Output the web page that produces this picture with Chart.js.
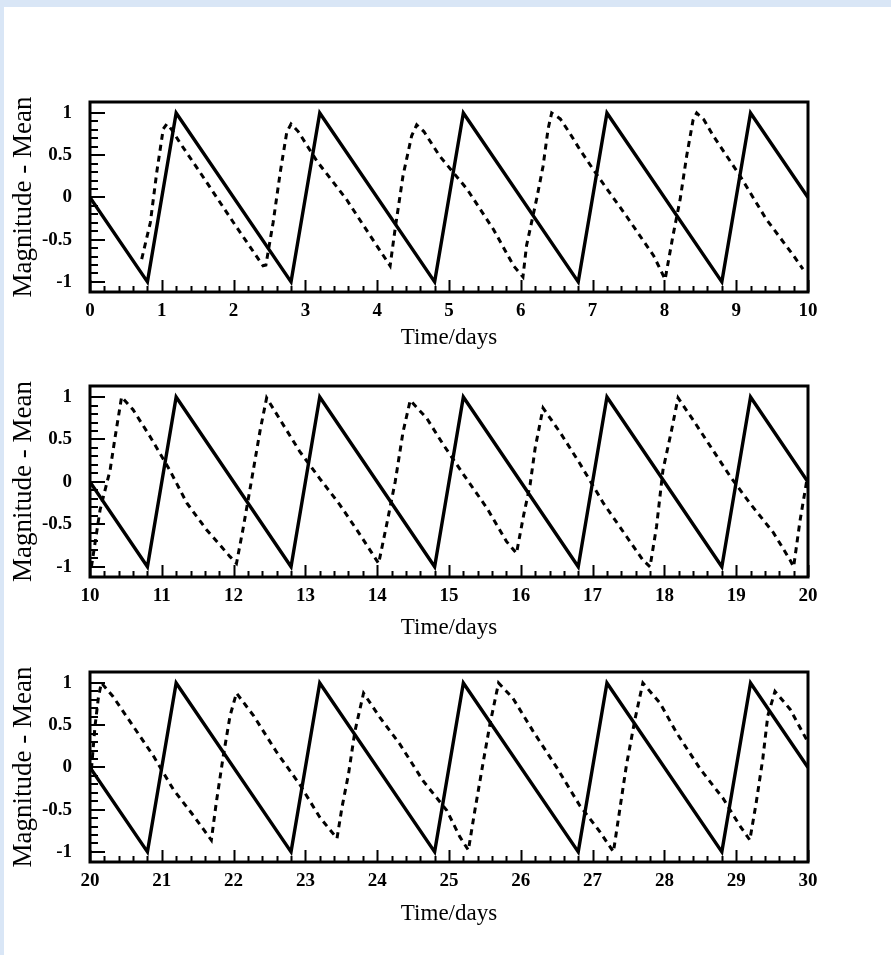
<!DOCTYPE html>
<html>
<head>
<meta charset="utf-8">
<script src="https://cdn.jsdelivr.net/npm/chart.js@4.4.1/dist/chart.umd.min.js"></script>
<style>
  html, body { margin: 0; padding: 0; background: #ffffff; }
  #page { position: relative; width: 891px; height: 955px; overflow: hidden; background: #ffffff; }
  #topStrip { position: absolute; left: 0; top: 0; width: 891px; height: 7px; background: #d9e6f6; }
  #leftStrip { position: absolute; left: 0; top: 0; width: 4px; height: 955px; background: #d9e6f6; }
  canvas { position: absolute; left: 0; }
</style>
</head>
<body>
<div id="page">
  <div id="topStrip"></div>
  <div id="leftStrip"></div>
  <canvas id="c1" width="891" height="360" style="top:0px"></canvas>
  <canvas id="c2" width="891" height="360" style="top:284px"></canvas>
  <canvas id="c3" width="891" height="360" style="top:570px"></canvas>
</div>
<script>
// ---------------- DATA ----------------
const yTickValues = [-1, -0.5, 0, 0.5, 1];
const yTickLabels = ['-1', '-0.5', '0', '0.5', '1'];

const xLabels1 = ['0','1','2','3','4','5','6','7','8','9','10'];
const xLabels2 = ['10','11','12','13','14','15','16','17','18','19','20'];
const xLabels3 = ['20','21','22','23','24','25','26','27','28','29','30'];

// solid curve (vertices)
const solidT1 = [0, 0.8, 1.2, 2.8, 3.2, 4.8, 5.2, 6.8, 7.2, 8.8, 9.2, 10];
const solidV1 = [0, -1, 1, -1, 1, -1, 1, -1, 1, -1, 1, 0];
const solidT2 = [10, 10.8, 11.2, 12.8, 13.2, 14.8, 15.2, 16.8, 17.2, 18.8, 19.2, 20];
const solidV2 = [0, -1, 1, -1, 1, -1, 1, -1, 1, -1, 1, 0];
const solidT3 = [20, 20.8, 21.2, 22.8, 23.2, 24.8, 25.2, 26.8, 27.2, 28.8, 29.2, 30];
const solidV3 = [0, -1, 1, -1, 1, -1, 1, -1, 1, -1, 1, 0];

// dashed curve
const dashT1 = [0.72,0.84,0.93,1.02,1.07,1.14,1.25,1.53,2.0,2.41,2.45,2.55,2.65,2.74,2.8,2.9,3.16,3.57,3.9,4.18,4.25,4.36,4.48,4.55,4.65,4.87,5.25,5.62,5.9,6.03,6.08,6.22,6.31,6.38,6.43,6.55,6.69,6.82,7.01,7.2,7.47,7.85,8.01,8.12,8.22,8.31,8.4,8.45,8.55,8.68,9.05,9.42,9.8,9.93];
const dashV1 = [-0.73,-0.3,0.3,0.81,0.87,0.8,0.65,0.3,-0.3,-0.81,-0.8,-0.3,0.3,0.77,0.87,0.78,0.43,-0.02,-0.45,-0.81,-0.37,0.26,0.73,0.86,0.78,0.49,0.1,-0.38,-0.81,-0.94,-0.57,-0.02,0.37,0.81,1.0,0.93,0.75,0.57,0.33,0.1,-0.22,-0.69,-0.97,-0.45,-0.02,0.49,0.92,1.0,0.92,0.73,0.26,-0.26,-0.69,-0.85];

const dashT2 = [10.02,10.14,10.28,10.35,10.44,10.6,10.84,11.11,11.35,11.62,11.95,12.04,12.13,12.25,12.37,12.46,12.65,12.92,13.2,13.48,13.76,14.02,14.13,14.25,14.36,14.46,14.69,14.92,15.2,15.53,15.8,15.94,16.04,16.13,16.2,16.31,16.55,16.82,17.15,17.47,17.7,17.8,17.89,17.98,18.1,18.19,18.4,18.64,18.92,19.19,19.52,19.75,19.8,19.89,19.98];
const dashV2 = [-1.0,-0.33,0.14,0.53,1.0,0.85,0.53,0.14,-0.25,-0.56,-0.88,-0.96,-0.56,0.02,0.61,0.99,0.73,0.36,0.04,-0.27,-0.62,-0.96,-0.51,0.0,0.59,0.96,0.75,0.44,0.09,-0.31,-0.7,-0.84,-0.39,-0.03,0.4,0.87,0.58,0.22,-0.25,-0.64,-0.92,-1.0,-0.53,0.14,0.61,0.99,0.73,0.42,0.06,-0.25,-0.6,-0.92,-1.0,-0.45,0.0];

const dashT3 = [20.02,20.07,20.12,20.16,20.32,20.6,20.88,21.16,21.44,21.69,21.76,21.85,21.95,22.04,22.28,22.6,22.92,23.2,23.44,23.51,23.6,23.69,23.81,24.04,24.32,24.64,24.97,25.15,25.27,25.36,25.48,25.57,25.69,25.89,26.17,26.5,26.82,27.1,27.29,27.38,27.47,27.59,27.7,27.94,28.17,28.5,28.82,29.05,29.19,29.28,29.37,29.44,29.54,29.75,29.98];
const dashV3 = [-0.02,0.49,0.85,1.0,0.84,0.49,0.14,-0.26,-0.57,-0.86,-0.41,0.1,0.61,0.88,0.61,0.18,-0.2,-0.59,-0.84,-0.47,-0.08,0.43,0.88,0.59,0.27,-0.16,-0.51,-0.82,-0.98,-0.51,0.08,0.51,1.0,0.82,0.43,0.0,-0.45,-0.76,-1.0,-0.49,0.02,0.57,1.0,0.76,0.41,-0.02,-0.37,-0.69,-0.86,-0.41,0.1,0.61,0.9,0.69,0.33];

// ---------------- RENDERING ----------------
const pts = (t, v) => t.map((ti, i) => ({ x: ti, y: v[i] }));
const serif = '"Liberation Serif", "Times New Roman", serif';

const frameTicks = {
  id: 'frameTicks',
  afterDatasetsDraw(chart) {
    const { ctx, chartArea: a, scales: { x, y } } = chart;
    ctx.save();
    ctx.strokeStyle = '#000';
    ctx.lineWidth = 2;
    ctx.beginPath();
    for (let k = 0; k <= 50; k++) {
      const v = x.min + k * 0.2;
      const len = (k % 5 === 0) ? 12 : 6;
      const px = Math.round(x.getPixelForValue(v)) + 0.5;
      ctx.moveTo(px, a.bottom);
      ctx.lineTo(px, a.bottom - len);
    }
    for (let k = -10; k <= 10; k++) {
      const v = k / 10;
      const len = (k % 5 === 0) ? 15 : 8;
      const py = Math.round(y.getPixelForValue(v));
      ctx.moveTo(a.left, py);
      ctx.lineTo(a.left + len, py);
    }
    ctx.stroke();
    ctx.lineWidth = 3;
    ctx.strokeRect(a.left, a.top, a.right - a.left, a.bottom - a.top);
    ctx.restore();
  }
};

const panels = [
  { id: 'c1', xmin: 0,  xmax: 10, labels: xLabels1, sT: solidT1, sV: solidV1, dT: dashT1, dV: dashV1, padTop: 102, xH: 68, titlePad: 8.5 },
  { id: 'c2', xmin: 10, xmax: 20, labels: xLabels2, sT: solidT2, sV: solidV2, dT: dashT2, dV: dashV2, padTop: 102, xH: 67, titlePad: 2.5 },
  { id: 'c3', xmin: 20, xmax: 30, labels: xLabels3, sT: solidT3, sV: solidV3, dT: dashT3, dV: dashV3, padTop: 102, xH: 68, titlePad: 2.5 }
];

panels.forEach(p => {
  const majorX = p.labels.map(Number);
  new Chart(document.getElementById(p.id), {
    type: 'line',
    data: {
      datasets: [
        { data: pts(p.dT, p.dV), borderColor: '#000', borderWidth: 3, borderDash: [6, 5],
          pointRadius: 0, tension: 0, fill: false },
        { data: pts(p.sT, p.sV), borderColor: '#000', borderWidth: 3.4,
          pointRadius: 0, tension: 0, fill: false }
      ]
    },
    options: {
      responsive: false,
      animation: false,
      events: [],
      layout: { padding: { top: p.padTop, right: 83, left: 0, bottom: 0 } },
      plugins: { legend: { display: false }, tooltip: { enabled: false } },
      scales: {
        x: {
          type: 'linear', min: p.xmin, max: p.xmax,
          afterBuildTicks: s => { s.ticks = majorX.map(v => ({ value: v })); },
          afterFit: s => { s.height = p.xH; },
          grid: { display: false, drawTicks: false },
          border: { display: false },
          ticks: {
            autoSkip: false, maxRotation: 0, padding: 8, color: '#000',
            font: { family: serif, size: 19, weight: 'bold' },
            callback: (v, i) => p.labels[i]
          },
          title: {
            display: true, text: 'Time/days', color: '#000',
            font: { family: serif, size: 23 },
            padding: { top: 0, bottom: p.titlePad }
          }
        },
        y: {
          type: 'linear', min: -1.12, max: 1.13,
          afterBuildTicks: s => { s.ticks = yTickValues.map(v => ({ value: v })); },
          afterFit: s => { s.width = 90; },
          grid: { display: false, drawTicks: false },
          border: { display: false },
          ticks: {
            autoSkip: false, padding: 18, color: '#000',
            font: { family: serif, size: 19, weight: 'bold' },
            callback: (v, i) => yTickLabels[i]
          },
          title: {
            display: true, text: 'Magnitude - Mean', color: '#000',
            font: { family: serif, size: 27 },
            padding: { top: 8, bottom: 0 }
          }
        }
      }
    },
    plugins: [frameTicks]
  });
});
</script>
</body>
</html>
